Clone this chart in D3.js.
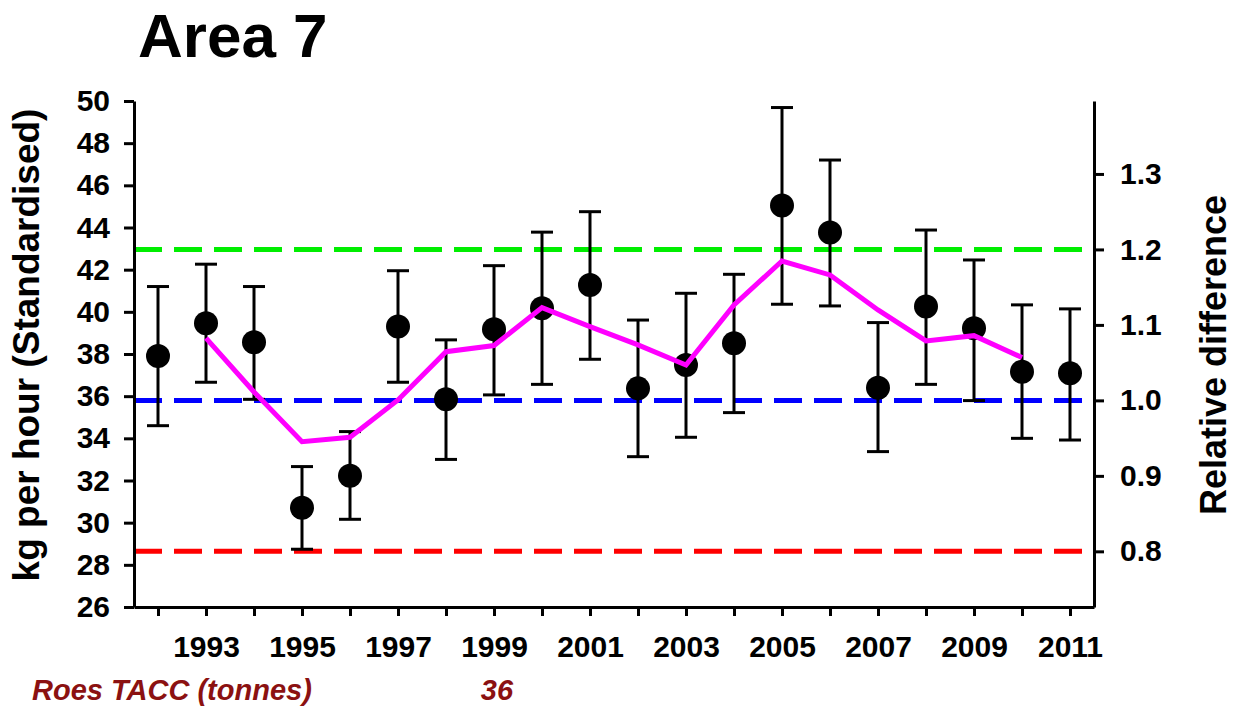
<!DOCTYPE html>
<html>
<head>
<meta charset="utf-8">
<script src="https://cdn.jsdelivr.net/npm/d3@7"></script>
<style>
  body { margin: 0; background: #fff; }
  svg text { font-family: Arial, 'Liberation Sans', Helvetica, sans-serif; }
  .axis path, .axis line { stroke: #000; stroke-width: 3; }
  .axis text { font-size: 30px; font-weight: bold; fill: #000; }
</style>
</head>
<body>
<div id="chart"></div>
<script>
// Standardised CPUE by fishing year, with 95% intervals
const years = [1992, 1993, 1994, 1995, 1996, 1997, 1998, 1999, 2000, 2001,
               2002, 2003, 2004, 2005, 2006, 2007, 2008, 2009, 2010, 2011];
const cpue  = [37.9, 39.46, 38.56, 30.71, 32.23, 39.3, 35.85, 39.17, 40.17, 41.27,
               36.37, 37.48, 38.51, 45.04, 43.76, 36.4, 40.25, 39.22, 37.16, 37.09];
const upper = [41.2, 42.26, 41.2, 32.66, 34.32, 41.95, 38.67, 42.19, 43.78, 44.75,
               39.61, 40.88, 41.78, 49.69, 47.2, 39.49, 43.88, 42.46, 40.33, 40.14];
const lower = [34.6, 36.66, 35.85, 28.74, 30.16, 36.66, 33.0, 36.06, 36.56, 37.75,
               33.13, 34.05, 35.22, 40.36, 40.28, 33.37, 36.56, 35.79, 34.0, 33.92];

// running mean (magenta)
const trendYears = [1993, 1994, 1995, 1996, 1997, 1998, 1999, 2000, 2001,
                    2002, 2003, 2004, 2005, 2006, 2007, 2008, 2009, 2010];
const trend = [38.75, 36.2, 33.84, 34.05, 35.82, 38.11, 38.4, 40.2, 39.3,
               38.43, 37.48, 40.33, 42.41, 41.75, 40.09, 38.62, 38.87, 37.83];

// reference levels on the relative scale
const refMean = 35.8;
const refLevels = [0.8, 1.0, 1.2];
const refColors = ['#ff0000', '#0000ff', '#00ee00'];

const leftTicks = [26, 28, 30, 32, 34, 36, 38, 40, 42, 44, 46, 48, 50];
const rightTicks = [0.8, 0.9, 1.0, 1.1, 1.2, 1.3];
const labelYears = [1993, 1995, 1997, 1999, 2001, 2003, 2005, 2007, 2009, 2011];

const tacc = [{year: 1999, value: '36'}];

class CpueChart {
  constructor(parent) {
    this.config = {
      parentElement: parent,
      containerWidth: 1234,
      containerHeight: 709,
      margin: {top: 101, right: 140, bottom: 102, left: 134}
    };
    this.initVis();
  }

  initVis() {
    let vis = this;
    const m = vis.config.margin;
    vis.width = vis.config.containerWidth - m.left - m.right;
    vis.height = vis.config.containerHeight - m.top - m.bottom;

    vis.svg = d3.select(vis.config.parentElement).append('svg')
      .attr('width', vis.config.containerWidth)
      .attr('height', vis.config.containerHeight);

    vis.chart = vis.svg.append('g')
      .attr('transform', `translate(${m.left},${m.top})`);

    vis.xScale = d3.scaleLinear().domain([1991.5, 2011.5]).range([0, vis.width]);
    vis.yScale = d3.scaleLinear().domain([26, 50]).range([vis.height, 0]);
    vis.rScale = d3.scaleLinear().domain([26 / refMean, 50 / refMean]).range([vis.height, 0]);

    vis.renderVis();
  }

  renderVis() {
    let vis = this;

    // dashed reference lines
    vis.chart.selectAll('.ref-line')
      .data(refLevels)
      .join('line')
      .attr('class', 'ref-line')
      .attr('x1', 0)
      .attr('x2', vis.width)
      .attr('y1', d => vis.rScale(d))
      .attr('y2', d => vis.rScale(d))
      .attr('stroke', (d, i) => refColors[i])
      .attr('stroke-width', 5)
      .attr('stroke-dasharray', '28,12');

    const pts = years.map((y, i) => ({year: y, v: cpue[i], lo: lower[i], hi: upper[i]}));

    // error bars
    const bars = vis.chart.selectAll('.err')
      .data(pts)
      .join('g')
      .attr('class', 'err')
      .attr('stroke', '#000')
      .attr('stroke-width', 3);
    bars.append('line')
      .attr('x1', d => vis.xScale(d.year)).attr('x2', d => vis.xScale(d.year))
      .attr('y1', d => vis.yScale(d.lo)).attr('y2', d => vis.yScale(d.hi));
    bars.append('line')
      .attr('x1', d => vis.xScale(d.year) - 11).attr('x2', d => vis.xScale(d.year) + 11)
      .attr('y1', d => vis.yScale(d.hi)).attr('y2', d => vis.yScale(d.hi));
    bars.append('line')
      .attr('x1', d => vis.xScale(d.year) - 11).attr('x2', d => vis.xScale(d.year) + 11)
      .attr('y1', d => vis.yScale(d.lo)).attr('y2', d => vis.yScale(d.lo));

    vis.chart.selectAll('.point')
      .data(pts)
      .join('circle')
      .attr('class', 'point')
      .attr('cx', d => vis.xScale(d.year))
      .attr('cy', d => vis.yScale(d.v))
      .attr('r', 12)
      .attr('fill', '#000');

    // magenta trend
    const line = d3.line()
      .x(d => vis.xScale(d[0]))
      .y(d => vis.yScale(d[1]));
    vis.chart.append('path')
      .datum(trendYears.map((y, i) => [y, trend[i]]))
      .attr('fill', 'none')
      .attr('stroke', '#ff00ff')
      .attr('stroke-width', 5)
      .attr('d', line);

    // axes
    vis.chart.append('g')
      .attr('class', 'axis')
      .call(d3.axisLeft(vis.yScale).tickValues(leftTicks).tickSize(10).tickPadding(14).tickSizeOuter(0));

    vis.chart.append('g')
      .attr('class', 'axis')
      .attr('transform', `translate(${vis.width},0)`)
      .call(d3.axisRight(vis.rScale).tickValues(rightTicks).tickFormat(d3.format('.1f'))
        .tickSize(10).tickPadding(16).tickSizeOuter(0));

    vis.chart.append('g')
      .attr('class', 'axis')
      .attr('transform', `translate(0,${vis.height})`)
      .call(d3.axisBottom(vis.xScale).tickValues(years)
        .tickFormat(d => labelYears.includes(d) ? d : '')
        .tickSize(9).tickPadding(20).tickSizeOuter(0));

    // titles
    vis.svg.append('text')
      .attr('x', 138).attr('y', 57)
      .attr('font-size', 62).attr('font-weight', 'bold')
      .text('Area 7');

    vis.svg.append('text')
      .attr('transform', 'translate(39,345) rotate(-90)')
      .attr('text-anchor', 'middle')
      .attr('font-size', 37).attr('font-weight', 'bold')
      .text('kg per hour (Standardised)');

    vis.svg.append('text')
      .attr('transform', 'translate(1226,355) rotate(-90)')
      .attr('text-anchor', 'middle')
      .attr('font-size', 36).attr('font-weight', 'bold')
      .text('Relative difference');

    // TACC row
    vis.svg.append('text')
      .attr('x', 32).attr('y', 700)
      .attr('font-size', 29).attr('font-weight', 'bold').attr('font-style', 'italic')
      .attr('fill', '#8b1111')
      .text('Roes TACC (tonnes)');

    vis.chart.selectAll('.tacc')
      .data(tacc)
      .join('text')
      .attr('class', 'tacc')
      .attr('x', d => vis.xScale(d.year) + 3)
      .attr('y', 700 - vis.config.margin.top)
      .attr('text-anchor', 'middle')
      .attr('font-size', 29).attr('font-weight', 'bold').attr('font-style', 'italic')
      .attr('fill', '#8b1111')
      .text(d => d.value);
  }
}

new CpueChart('#chart');
</script>
</body>
</html>
